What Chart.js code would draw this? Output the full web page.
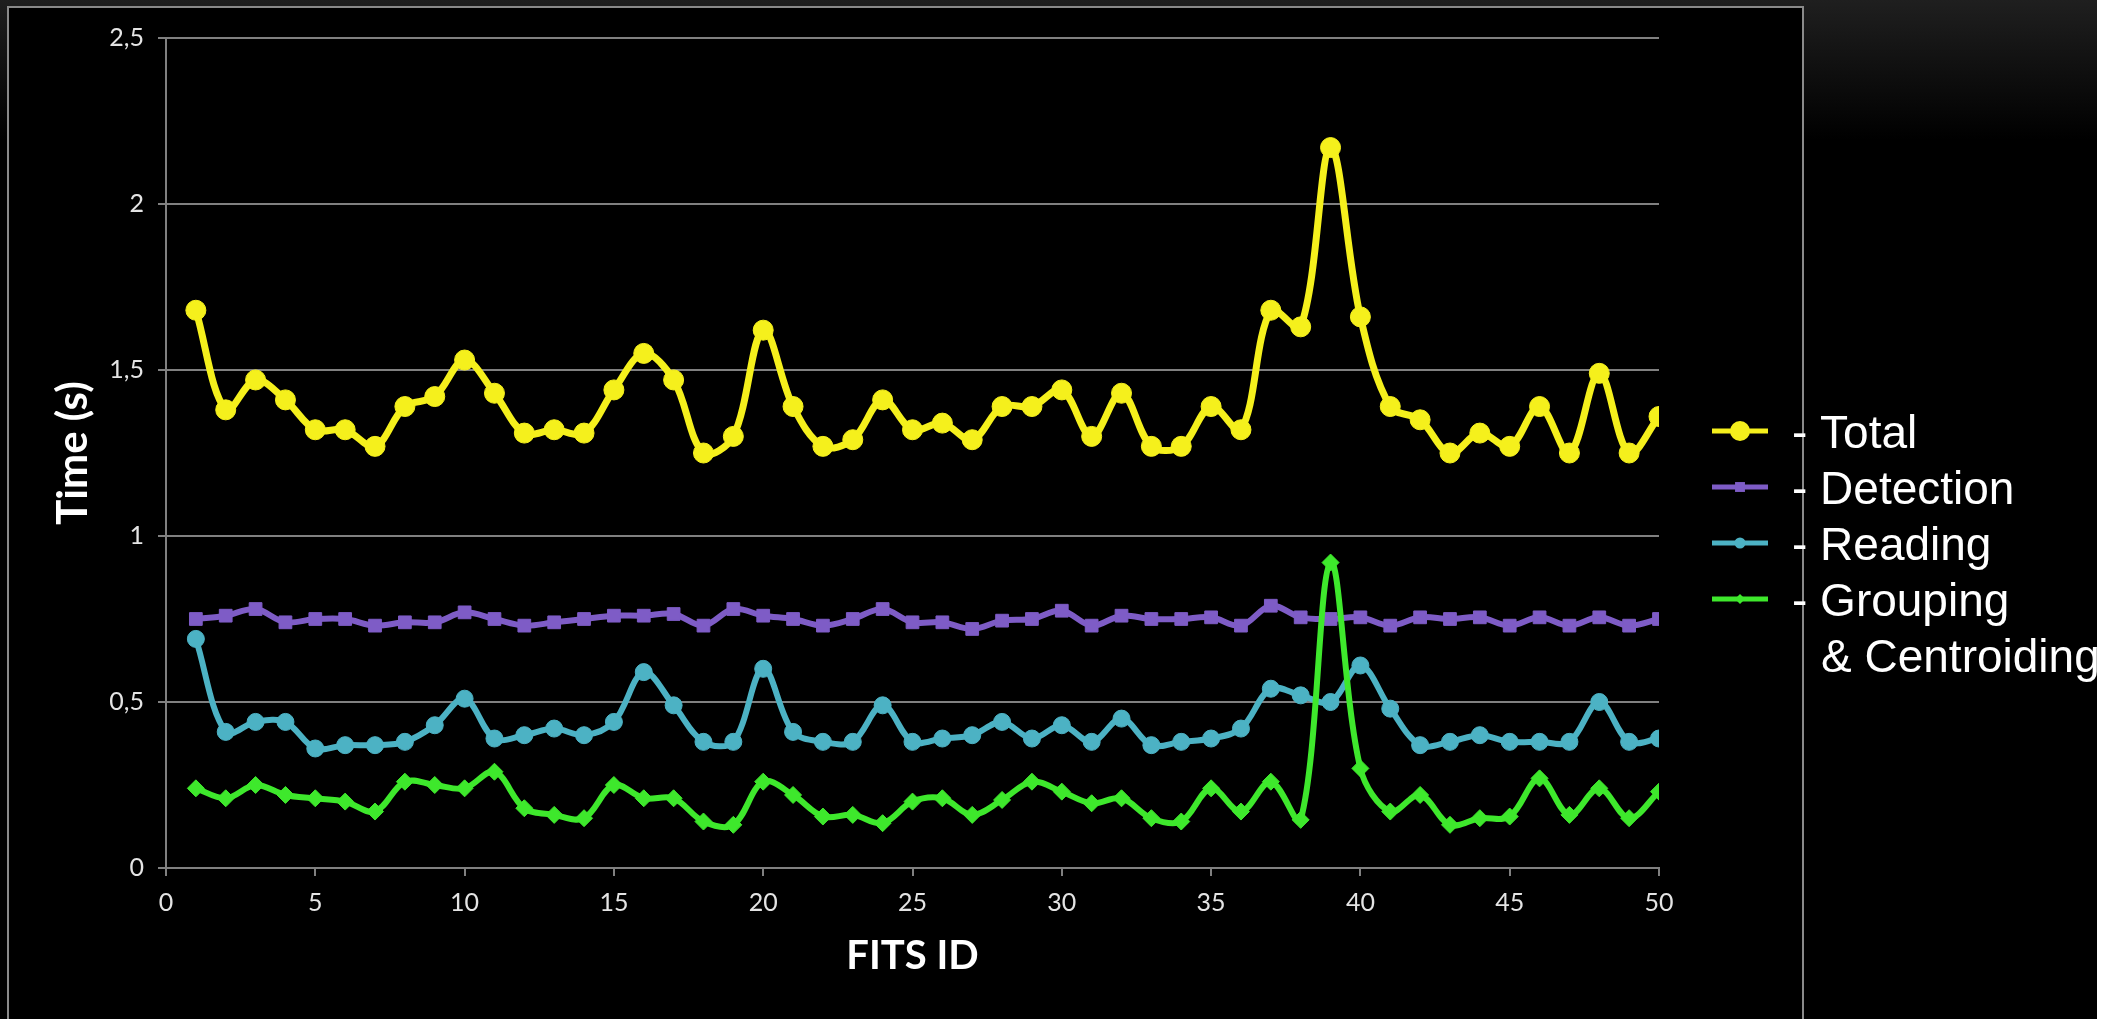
<!DOCTYPE html>
<html>
<head>
<meta charset="utf-8">
<title>Processing time per FITS file</title>
<script src="https://cdn.jsdelivr.net/npm/chart.js"></script>
<style>
    html, body { margin: 0; padding: 0; background: #000; overflow: hidden; }
    #chart { display: block; }
</style>
</head>
<body>
<canvas id="chart" width="2113" height="1019"></canvas>
<script>
// FITS file ids (x axis)
const fitsIds = [1, 2, 3, 4, 5, 6, 7, 8, 9, 10,
    11, 12, 13, 14, 15, 16, 17, 18, 19, 20,
    21, 22, 23, 24, 25, 26, 27, 28, 29, 30,
    31, 32, 33, 34, 35, 36, 37, 38, 39, 40,
    41, 42, 43, 44, 45, 46, 47, 48, 49, 50];

// times in seconds
const totalTime = [1.68, 1.38, 1.47, 1.41, 1.32, 1.32, 1.27, 1.39, 1.42, 1.53,
    1.43, 1.31, 1.32, 1.31, 1.44, 1.55, 1.47, 1.25, 1.30, 1.62,
    1.39, 1.27, 1.29, 1.41, 1.32, 1.34, 1.29, 1.39, 1.39, 1.44,
    1.30, 1.43, 1.27, 1.27, 1.39, 1.32, 1.68, 1.63, 2.17, 1.66,
    1.39, 1.35, 1.25, 1.31, 1.27, 1.39, 1.25, 1.49, 1.25, 1.36];

const detectionTime = [0.75, 0.76, 0.78, 0.74, 0.75, 0.75, 0.73, 0.74, 0.74, 0.77,
    0.75, 0.73, 0.74, 0.75, 0.76, 0.76, 0.765, 0.73, 0.78, 0.76,
    0.75, 0.73, 0.75, 0.78, 0.74, 0.74, 0.72, 0.745, 0.75, 0.775,
    0.73, 0.76, 0.75, 0.75, 0.755, 0.73, 0.79, 0.755, 0.75, 0.755,
    0.73, 0.755, 0.75, 0.755, 0.73, 0.755, 0.73, 0.755, 0.73, 0.75];

const readingTime = [0.69, 0.41, 0.44, 0.44, 0.36, 0.37, 0.37, 0.38, 0.43, 0.51,
    0.39, 0.40, 0.42, 0.40, 0.44, 0.59, 0.49, 0.38, 0.38, 0.60,
    0.41, 0.38, 0.38, 0.49, 0.38, 0.39, 0.40, 0.44, 0.39, 0.43,
    0.38, 0.45, 0.37, 0.38, 0.39, 0.42, 0.54, 0.52, 0.50, 0.61,
    0.48, 0.37, 0.38, 0.40, 0.38, 0.38, 0.38, 0.50, 0.38, 0.39];

const groupingTime = [0.24, 0.21, 0.25, 0.22, 0.21, 0.20, 0.17, 0.26, 0.25, 0.24,
    0.29, 0.18, 0.16, 0.15, 0.25, 0.21, 0.21, 0.14, 0.13, 0.26,
    0.22, 0.155, 0.16, 0.135, 0.20, 0.21, 0.16, 0.205, 0.26, 0.23,
    0.195, 0.21, 0.15, 0.14, 0.24, 0.17, 0.26, 0.145, 0.92, 0.30,
    0.17, 0.22, 0.13, 0.15, 0.155, 0.27, 0.16, 0.24, 0.15, 0.23];

const seriesNames = ['Total', 'Detection', 'Reading', 'Grouping'];
const xTicks = [0, 5, 10, 15, 20, 25, 30, 35, 40, 45, 50];
const yTicks = [0, 0.5, 1, 1.5, 2, 2.5];

const W = 2113, H = 1019;
const gridGray = '#808080';

function toPoints(values) {
    return fitsIds.map((id, i) => ({ x: id, y: values[i] }));
}

function makeDataset(label, values, color, style, radius, width, legendRadius, order) {
    return {
        label: label,
        data: toPoints(values),
        borderColor: color,
        backgroundColor: color,
        borderWidth: width,
        pointStyle: style,
        pointRadius: radius,
        pointBackgroundColor: color,
        pointBorderColor: color,
        pointBorderWidth: 1,
        tension: 0.35,
        legendRadius: legendRadius,
        order: order
    };
}

// page background and the framed black chart box
const backdrop = {
    id: 'backdrop',
    beforeDraw(chart) {
        const ctx = chart.ctx;
        ctx.save();
        const grad = ctx.createLinearGradient(0, 0, 0, 140);
        grad.addColorStop(0, '#1f1f1f');
        grad.addColorStop(1, '#000000');
        ctx.fillStyle = grad;
        ctx.fillRect(0, 0, W, H);
        ctx.fillStyle = '#000000';
        ctx.fillRect(8, 7, 1795, H - 7);
        ctx.strokeStyle = '#8a8a8a';
        ctx.lineWidth = 2;
        ctx.strokeRect(8, 7, 1795, H - 6);
        ctx.restore();
    }
};

function drawMarker(ctx, style, x, y, r) {
    ctx.beginPath();
    if (style === 'circle') {
        ctx.arc(x, y, r, 0, Math.PI * 2);
    } else if (style === 'rect') {
        const s = r * Math.SQRT1_2;
        ctx.rect(x - s, y - s, 2 * s, 2 * s);
    } else {
        ctx.moveTo(x - r, y);
        ctx.lineTo(x, y - r);
        ctx.lineTo(x + r, y);
        ctx.lineTo(x, y + r);
        ctx.closePath();
    }
    ctx.fill();
}

// legend sits to the right, over the frame edge, like the original slide
const sideLegend = {
    id: 'sideLegend',
    afterDraw(chart) {
        const ctx = chart.ctx;
        ctx.save();
        ctx.font = '46px "Liberation Sans", Arial, sans-serif';
        ctx.textBaseline = 'alphabetic';
        chart.data.datasets.forEach((ds, i) => {
            const y = 431 + i * 56;
            ctx.strokeStyle = ds.borderColor;
            ctx.fillStyle = ds.borderColor;
            ctx.lineWidth = 5;
            ctx.beginPath();
            ctx.moveTo(1712, y);
            ctx.lineTo(1768, y);
            ctx.stroke();
            drawMarker(ctx, ds.pointStyle, 1740, y, ds.legendRadius);
            ctx.fillStyle = '#ffffff';
            ctx.fillText('- ' + ds.label, 1792, y + 17);
        });
        ctx.fillText('& Centroiding', 1821, 431 + 4 * 56 + 17);
        // pale strip along the right edge of the scanned slide
        ctx.fillStyle = '#ffffff';
        ctx.fillRect(2097, 0, W - 2097, H);
        ctx.restore();
    }
};

const ctx = document.getElementById('chart').getContext('2d');
new Chart(ctx, {
    type: 'line',
    data: {
        datasets: [
            makeDataset(seriesNames[0], totalTime, '#f5f01c', 'circle', 10, 7, 10, 3),
            makeDataset(seriesNames[1], detectionTime, '#7e5cc6', 'rect', 9, 6, 7, 2),
            makeDataset(seriesNames[2], readingTime, '#4cb2c4', 'circle', 8.5, 6, 5.5, 1),
            makeDataset(seriesNames[3], groupingTime, '#3ee82c', 'rectRot', 8.5, 6, 5, 0)
        ]
    },
    options: {
        responsive: false,
        animation: false,
        layout: {
            padding: { top: 38, right: 454, left: 0, bottom: 0 }
        },
        plugins: {
            legend: { display: false },
            tooltip: { enabled: false }
        },
        scales: {
            x: {
                type: 'linear',
                min: 0,
                max: 50,
                afterBuildTicks: (scale) => {
                    scale.ticks = xTicks.map(v => ({ value: v }));
                },
                afterFit: (scale) => { scale.height = H - 868; },
                grid: {
                    drawOnChartArea: false,
                    drawTicks: true,
                    tickLength: 8,
                    color: gridGray,
                    lineWidth: 2
                },
                border: { display: true, color: gridGray, width: 2 },
                ticks: {
                    color: '#e4e4e4',
                    padding: 12,
                    font: { family: 'Lato, "Open Sans", sans-serif', size: 25 }
                },
                title: {
                    display: true,
                    text: 'FITS ID',
                    color: '#ffffff',
                    padding: 39,
                    font: { family: 'Lato, "Open Sans", sans-serif', size: 40, weight: 'bold' }
                }
            },
            y: {
                type: 'linear',
                min: 0,
                max: 2.5,
                afterBuildTicks: (scale) => {
                    scale.ticks = yTicks.map(v => ({ value: v }));
                },
                afterFit: (scale) => { scale.width = 166; },
                grid: {
                    drawTicks: true,
                    tickLength: 8,
                    color: gridGray,
                    lineWidth: 2
                },
                border: { display: true, color: gridGray, width: 2 },
                ticks: {
                    color: '#e4e4e4',
                    padding: 14,
                    font: { family: 'Lato, "Open Sans", sans-serif', size: 25 },
                    callback: (value) => String(value).replace('.', ',')
                },
                title: {
                    display: true,
                    text: 'Time (s)',
                    color: '#ffffff',
                    padding: 48,
                    font: { family: 'Lato, "Open Sans", sans-serif', size: 42, weight: 'bold' }
                }
            }
        }
    },
    plugins: [backdrop, sideLegend]
});
</script>
</body>
</html>
